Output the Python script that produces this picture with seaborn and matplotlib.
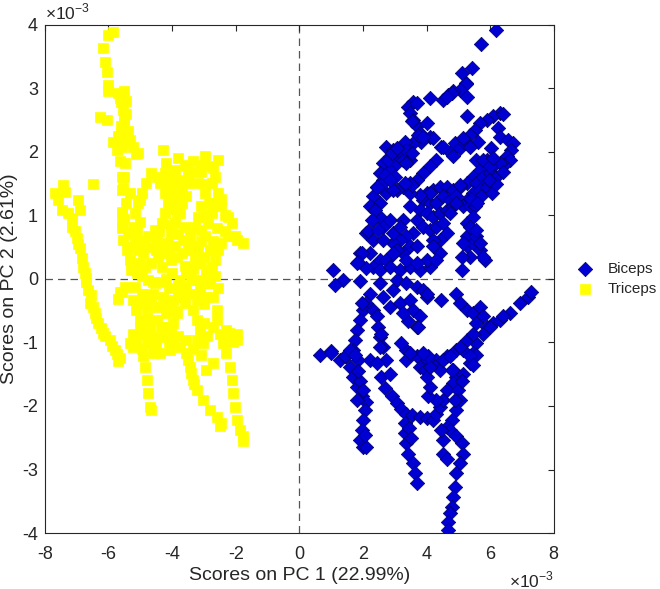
import numpy as np
import pandas as pd
import matplotlib
matplotlib.use("Agg")
import matplotlib.pyplot as plt
import seaborn as sns

# ── Data (scores in units of 1e-3) ────────────────────────────
triceps_pts = [
    # far-left strand
    (-7.69, 1.35), (-7.43, 1.48), (-7.38, 1.37), (-7.59, 1.24), (-7.47, 1.09),
    (-7.27, 1.04), (-7.15, 0.96), (-7.15, 0.82), (-7.05, 0.75), (-7.0, 0.65),
    (-6.95, 0.55), (-6.9, 0.49), (-6.84, 0.33), (-6.8, 0.19), (-6.75, 0.1),
    (-6.72, 0.02), (-6.7, -0.05), (-6.65, -0.17), (-6.55, -0.25), (-6.59, -0.38),
    (-6.5, -0.45), (-6.43, -0.54), (-6.4, -0.62), (-6.33, -0.69), (-6.25, -0.78),
    (-6.17, -0.85), (-6.1, -0.9), (-5.96, -0.96), (-5.88, -1.05), (-5.8, -1.12),
    (-5.72, -1.18), (-5.65, -1.24), (-5.7, -1.3), (-6.95, 1.24), (-6.9, 1.09),
    (-6.5, 1.5),
    # tall strand at the top
    (-5.86, 3.89), (-6.0, 3.84), (-6.17, 3.63), (-6.1, 3.42), (-6.05, 3.26),
    (-6.0, 3.05), (-6.0, 2.95), (-5.7, 2.92), (-5.5, 2.95), (-5.65, 2.85),
    (-5.6, 2.78), (-5.55, 2.66), (-5.5, 2.53), (-5.6, 2.4), (-5.4, 2.32),
    (-5.33, 2.19), (-5.23, 2.08), (-5.08, 1.98), (-5.12, 1.96), (-6.27, 2.55),
    (-6.05, 2.5), (-5.86, 2.16), (-5.74, 2.03), (-5.49, 1.82), (-5.59, 1.61),
    (-5.55, 1.43), (-5.33, 1.35), (-5.59, 1.04), (-5.59, 0.88), (-5.62, 2.3),
    (-5.7, 2.25), (-5.5, 2.45), (-5.45, 2.6), (-5.45, 2.15), (-5.58, 0.8),
    (-5.59, 2.08), (-5.38, 2.14), (-5.59, 1.40), (-5.59, 1.06), (-5.54, 0.61),
    (-5.43, 0.46), (-5.33, 0.30), (-5.28, 0.14), (-5.49, -0.12), (-5.17, -0.12),
    (-5.65, -0.2), (-5.7, -0.32), (-5.59, -0.2), (-5.45, 2.8), (-5.55, 2.2),
    (-5.65, 1.85), (-5.5, 1.6), (-5.45, 1.2), (-5.5, 0.95), (-5.4, 0.7),
    # body, left loop
    (-4.65, 1.66), (-4.81, 1.51), (-4.96, 1.35), (-5.07, 1.19), (-5.17, 1.03),
    (-5.23, 0.82), (-5.17, 0.61), (-5.07, 0.46), (-4.86, 0.56), (-4.75, 0.67),
    (-4.54, 0.77), (-4.33, 0.88), (-4.23, 1.03), (-4.13, 1.19), (-4.23, 1.35),
    (-4.39, 1.51), (-4.49, 1.61), (-5.27, 0.72), (-5.39, 0.5), (-5.02, 1.24),
    (-4.48, 0.61), (-4.7, 0.5), (-4.92, 0.41), (-5.02, 0.25), (-5.11, 0.09),
    (-4.28, 2.03), (-4.18, 1.82), (-4.23, 1.66), (-4.07, 1.35), (-4.17, 1.51),
    (-5.0, 0.9), (-5.1, 0.75), (-4.95, 0.6), (-4.4, 0.75), (-4.3, 0.55),
    (-4.5, 0.45),
    # body, top edge
    (-3.81, 1.90), (-3.60, 1.77), (-3.34, 1.85), (-3.29, 1.69), (-2.97, 1.93),
    (-2.55, 1.87), (-2.87, 1.77), (-3.08, 1.69), (-3.92, 1.72), (-3.54, 1.79),
    (-3.5, 1.65), (-3.7, 1.55), (-3.1, 1.8), (-2.7, 1.75), (-4.0, 1.6),
    # body, middle column
    (-3.92, 1.51), (-3.81, 1.35), (-3.70, 1.19), (-3.76, 1.03), (-3.92, 0.88),
    (-4.02, 0.72), (-4.13, 0.56), (-4.23, 0.40), (-3.60, 0.82), (-3.44, 0.67),
    (-3.39, 0.51), (-3.65, 0.61), (-3.92, 0.51), (-4.44, 0.35), (-4.65, 0.25),
    (-4.86, 0.19), (-4.33, 0.19), (-4.02, 0.30), (-3.70, 0.40), (-4.96, 0.04),
    (-4.75, -0.02), (-4.54, -0.07), (-4.96, -0.23), (-4.65, -0.28), (-4.86, -0.38),
    (-3.85, 1.04), (-3.7, 1.4), (-3.55, 1.3), (-4.05, 0.85), (-3.8, 0.7),
    (-4.1, 0.45), (-3.85, 0.35), (-3.5, 0.45), (-4.0, 1.1), (-3.95, 1.25),
    # body, right part
    (-3.50, 1.51), (-3.18, 1.51), (-2.97, 1.35), (-3.08, 1.14), (-3.18, 0.98),
    (-3.29, 0.82), (-3.08, 0.77), (-2.97, 0.67), (-2.87, 0.88), (-2.76, 1.03),
    (-2.66, 1.19), (-2.55, 1.35), (-2.76, 1.51), (-2.66, 1.61), (-2.45, 1.14),
    (-2.24, 0.98), (-2.13, 0.88), (-2.24, 0.67), (-2.03, 0.67), (-1.77, 0.56),
    (-1.97, 0.61), (-2.45, 0.56), (-2.55, 0.46), (-2.66, 0.30), (-2.76, 0.19),
    (-2.87, 0.09), (-3.29, 0.35), (-3.24, 0.25), (-3.55, 0.09), (-3.39, -0.01),
    (-3.08, -0.02), (-2.87, -0.07), (-3.70, -0.12), (-3.81, -0.28), (-3.50, -0.23),
    (-3.18, -0.23), (-2.97, -0.28), (-4.02, -0.38), (-3.60, -0.38), (-2.85, 1.2),
    (-3.0, 0.35), (-2.35, 0.75), (-2.6, 0.8), (-3.2, 0.5), (-3.1, 0.6),
    (-2.8, 0.45), (-2.7, 0.6), (-2.45, 1.25), (-2.35, 1.0), (-3.0, 1.0),
    (-2.95, 1.5), (-3.1, 0.25), (-3.35, 0.15), (-3.6, 0.2),
    # lower body
    (-5.23, -0.33), (-5.12, -0.49), (-5.02, -0.65), (-5.23, -0.86), (-5.33, -1.01),
    (-5.23, -1.07), (-4.91, -0.86), (-4.80, -1.01), (-4.91, -1.22), (-4.86, -1.38),
    (-4.80, -1.59), (-4.75, -1.80), (-4.70, -2.01), (-4.65, -2.06), (-4.60, -1.17),
    (-4.39, -1.17), (-4.07, -1.12), (-3.76, -1.07), (-3.97, -0.96), (-4.28, -0.91),
    (-4.60, -0.91), (-4.70, -0.75), (-4.49, -0.65), (-4.18, -0.75), (-3.97, -0.70),
    (-3.86, -0.54), (-4.18, -0.54), (-4.49, -0.44), (-4.80, -0.44), (-4.91, -0.23),
    (-4.60, -0.23), (-4.28, -0.28), (-3.97, -0.33), (-3.76, -0.23), (-3.55, -0.12),
    (-3.76, -0.02), (-3.44, 0.09), (-3.23, -0.02), (-3.13, -0.17), (-3.23, -0.33),
    (-3.34, -0.49), (-3.23, -0.65), (-3.13, -0.80), (-3.23, -0.96), (-3.03, -1.01),
    (-3.55, -0.96), (-4.8, -0.6), (-4.35, -0.75), (-4.1, -0.15), (-4.4, -0.05),
    (-4.6, -0.05), (-4.2, 0.0), (-4.0, 0.1), (-3.8, -0.1), (-4.2, -0.45),
    (-3.9, -0.5), (-4.05, -0.8), (-4.5, -1.05), (-4.1, -1.0), (-3.8, -0.9),
    (-3.35, -1.1), (-3.1, -1.2), (-3.0, -0.7), (-2.9, -0.9), (-3.0, -0.4),
    (-5.05, -0.4), (-5.0, -0.75), (-5.15, -0.95), (-4.95, -1.1), (-2.65, 0.05),
    (-2.55, -0.15),
    # lower-right strands
    (-2.92, 0.14), (-2.81, -0.07), (-2.71, -0.28), (-2.60, -0.49), (-2.60, -0.65),
    (-2.50, -0.86), (-2.40, -1.01), (-2.29, -1.17), (-2.19, -1.38), (-2.13, -1.59),
    (-2.08, -1.80), (-2.03, -2.01), (-1.97, -2.22), (-1.87, -2.38), (-1.77, -2.48),
    (-1.77, -2.55), (-2.7, -0.75),
    (-3.55, -1.17), (-3.44, -1.38), (-3.34, -1.59), (-3.23, -1.75), (-3.03, -1.91),
    (-2.81, -2.06), (-2.60, -2.17), (-2.45, -2.27), (-2.5, -2.32), (-2.71, -1.33),
    (-2.92, -1.43), (-3.5, -1.28), (-3.4, -1.48), (-3.3, -1.65),
    (-2.29, -0.80), (-1.97, -0.86), (-1.95, -0.96), (-2.08, -1.0), (-2.2, -0.85),
]

biceps_pts = [
    # top spur and hook
    (6.18, 3.92), (5.70, 3.69), (5.42, 3.32), (5.10, 3.24), (5.24, 3.08),
    (5.24, 3.06), (5.05, 2.98), (4.84, 2.95), (4.68, 2.90), (4.52, 2.82),
    (5.26, 2.87), (4.10, 2.85), (5.26, 2.56), (4.79, 2.92), (4.63, 2.87),
    (3.58, 2.79), (3.42, 2.71), (3.47, 2.61), (3.58, 2.50), (3.69, 2.40),
    (3.79, 2.29), (4.0, 2.45), (4.10, 2.24), (3.84, 2.16), (3.58, 2.14),
    (3.32, 2.16), (3.69, 2.77), (3.53, 2.48), (3.74, 2.27), (4.21, 2.22),
    (3.89, 2.24),
    # upper-right arc
    (6.30, 2.61), (6.09, 2.56), (5.89, 2.50), (5.68, 2.45), (5.52, 2.35),
    (5.36, 2.27), (6.25, 2.37), (6.30, 2.24), (6.57, 2.19), (6.72, 2.14),
    (6.67, 2.03), (6.52, 1.93), (5.62, 2.16), (6.04, 2.06), (6.41, 2.60),
    (6.62, 1.87), (6.45, 1.80),
    # second row
    (4.47, 2.08), (4.73, 2.00), (4.89, 2.14), (5.05, 2.06), (5.20, 2.14),
    (4.84, 1.93), (5.36, 2.08), (5.15, 2.22), (4.52, 2.08),
    # dense right band
    (5.57, 1.87), (5.89, 1.87), (6.09, 1.77), (6.30, 1.82), (5.68, 1.72),
    (5.47, 1.61), (5.26, 1.51), (5.05, 1.45), (5.57, 1.51), (5.78, 1.61),
    (5.99, 1.66), (5.47, 1.35), (5.26, 1.24), (5.68, 1.40), (5.15, 1.14),
    (5.36, 1.14), (5.52, 1.14), (5.26, 0.88), (5.26, 0.67), (5.26, 0.51),
    (5.36, 0.35), (5.47, 0.56), (5.68, 0.46), (5.83, 0.30), (5.57, 0.67),
    (5.78, 1.87), (5.99, 1.77), (6.20, 1.61), (6.41, 1.69), (5.89, 1.45),
    (6.05, 1.35), (5.70, 1.30), (6.20, 1.50), (5.47, 0.98), (5.36, 0.82),
    (5.57, 0.77), (5.68, 0.56), (5.78, 0.35), (5.10, 0.35), (5.10, 0.14),
    (5.15, 0.56), (5.40, 1.25), (5.60, 1.20), (5.95, 1.55), (6.10, 1.90),
    # diagonal band
    (4.0, 1.35), (4.21, 1.40), (4.42, 1.45), (4.63, 1.45), (4.84, 1.40),
    (3.89, 1.24), (4.10, 1.19), (4.31, 1.19), (4.52, 1.30), (4.73, 1.24),
    (4.94, 1.30), (3.79, 1.09), (4.0, 1.03), (4.21, 0.98), (4.42, 1.03),
    (4.63, 1.09), (4.84, 1.14), (3.69, 0.93), (3.89, 0.82), (4.10, 0.77),
    (4.31, 0.82), (4.52, 0.88), (4.63, 0.72), (4.42, 0.61), (4.21, 0.61),
    (3.58, 0.72), (3.37, 0.67), (3.16, 0.61), (2.95, 0.56), (3.47, 0.51),
    (3.26, 0.40), (4.94, 1.19), (5.05, 1.48), (4.73, 1.03), (4.10, 1.35),
    (3.79, 1.32), (3.47, 1.35), (4.21, 0.51), (4.42, 0.40), (3.69, 0.51),
    # upper diagonal
    (4.31, 1.87), (4.10, 1.77), (3.89, 1.66), (3.69, 1.56), (3.47, 1.51),
    (3.26, 1.45), (3.06, 1.40), (3.53, 1.48), (3.32, 1.51),
    # left upper cluster
    (2.74, 2.08), (2.95, 2.03), (3.16, 1.98), (2.85, 1.93), (2.64, 1.82),
    (2.53, 1.66), (2.64, 1.56), (2.85, 1.72), (3.06, 1.82), (3.26, 1.87),
    (3.47, 1.87), (3.37, 2.03), (2.43, 1.45), (2.32, 1.30), (2.53, 1.19),
    (2.74, 1.35), (2.95, 1.40), (2.22, 1.14), (2.32, 0.93), (2.53, 0.98),
    (2.64, 0.82), (2.85, 0.93), (3.26, 0.93), (3.47, 1.14), (2.11, 0.72),
    (2.32, 0.61), (2.64, 0.61), (2.95, 0.72), (3.16, 0.82), (1.90, 0.40),
    (2.22, 0.40), (2.53, 0.30), (2.85, 0.35), (3.06, 0.46), (2.79, 1.87),
    (2.90, 1.98), (3.06, 2.06), (2.69, 1.64), (2.58, 1.48), (2.45, 1.45),
    (2.37, 1.09), (2.16, 0.75), (2.48, 0.77), (2.27, 0.93), (3.37, 1.82),
    (3.53, 1.98), (3.0, 1.6), (2.85, 1.55), (2.74, 0.30), (2.32, 0.19),
    (2.11, 0.17), (1.96, 0.40), (1.85, 0.27), (2.95, 0.40),
    # around zero
    (1.06, 0.14), (1.38, -0.02), (1.12, -0.09), (1.90, -0.04), (1.80, 0.25),
    (2.53, 0.14), (2.85, 0.19), (3.16, 0.14), (3.47, 0.19), (3.79, 0.14),
    (3.06, -0.02), (3.37, -0.07), (3.69, -0.12), (3.89, -0.17), (4.0, -0.28),
    (2.53, -0.07), (2.22, -0.23), (2.64, -0.28), (2.85, -0.44), (3.16, -0.38),
    (3.47, -0.33), (3.58, -0.49), (3.42, -0.67), (3.69, -0.75), (3.79, -0.59),
    (4.10, 0.19), (4.0, 0.30), (4.31, 0.30), (3.37, 0.30), (3.69, 0.25),
    (4.47, -0.33), (2.95, -0.17), (3.26, -0.54), (3.74, -0.75), (4.0, -0.23),
    # below zero, left strands
    (2.11, -0.38), (2.01, -0.49), (1.90, -0.65), (2.32, -0.49), (2.43, -0.59),
    (2.48, -0.75), (2.53, -0.91), (2.64, -1.07), (2.74, -1.28), (1.80, -0.80),
    (1.75, -0.96), (1.69, -1.12), (1.48, -1.22), (1.27, -1.28), (1.01, -1.14),
    (0.64, -1.20), (1.01, -1.17), (1.43, -1.22), (1.59, -1.12), (1.59, -1.38),
    (1.69, -1.54), (1.80, -1.70), (1.96, -1.85), (2.11, -1.93), (2.06, -2.06),
    (2.01, -2.22), (1.96, -2.38), (1.90, -2.54), (2.01, -2.64), (2.11, -2.64),
    (1.85, -1.28), (1.80, -1.91), (1.75, -1.20), (1.90, -1.60), (1.96, -0.38),
    (2.22, -1.28), (2.43, -1.33), (2.58, -1.54), (2.69, -1.72), (2.53, -1.07),
    (2.85, -1.49), (2.90, -1.85), (3.06, -1.96), (3.21, -2.04), (2.58, -0.86),
    (1.85, -1.45), (2.0, -1.75), (2.05, -2.45),
    # right arc
    (4.94, -0.23), (5.05, -0.38), (5.26, -0.49), (5.47, -0.54), (5.68, -0.44),
    (5.78, -0.59), (5.57, -0.70), (5.89, -0.75), (6.09, -0.70), (6.30, -0.65),
    (6.62, -0.54), (6.93, -0.38), (7.19, -0.28), (7.30, -0.20), (5.78, -0.86),
    (5.57, -1.01), (5.26, -0.96), (4.94, -1.12), (4.63, -1.22), (4.31, -1.28),
    (4.0, -1.28), (3.69, -1.22), (3.37, -1.12), (3.21, -1.01), (3.37, -1.28),
    (3.79, -1.38), (3.95, -1.43), (4.42, -1.43), (4.84, -1.43), (4.94, -1.54),
    (4.84, -1.64), (5.47, -1.17), (5.36, -1.33), (5.57, -1.20), (5.15, -1.12),
    (5.05, -1.07), (5.47, -0.86), (6.41, -0.59), (5.99, -0.75),
    # lower strands
    (3.37, -2.12), (3.32, -2.27), (3.32, -2.43), (3.37, -2.59), (3.42, -2.75),
    (3.58, -2.90), (3.63, -3.06), (3.69, -3.22), (3.53, -2.14), (3.79, -2.17),
    (4.0, -2.19), (4.21, -2.22), (4.31, -2.12), (4.42, -2.01), (4.52, -1.91),
    (4.63, -1.75), (4.31, -1.91), (4.05, -1.85), (4.10, -1.70), (4.0, -1.54),
    (4.10, -1.38), (4.05, -1.22), (3.89, -1.17), (3.47, -1.17), (4.52, -1.28),
    (4.73, -1.22), (5.36, -1.22), (5.47, -1.35), (5.15, -1.49), (4.79, -1.43),
    (5.0, -1.75), (5.05, -1.91), (4.94, -2.06), (4.79, -2.22), (4.63, -2.33),
    (4.73, -2.38), (4.94, -2.48), (5.10, -2.59), (5.15, -2.75), (5.05, -2.90),
    (4.94, -3.06), (4.89, -3.27), (4.84, -3.43), (4.79, -3.59), (4.73, -3.69),
    (4.68, -3.82), (4.68, -3.95), (4.52, -2.54), (4.52, -2.75), (4.63, -2.83),
    (4.47, -2.38), (4.90, -1.90), (3.45, -2.35), (3.50, -2.50), (5.10, -1.60),
]

groups = ["Biceps", "Triceps"]
colors = {"Biceps": "#0000d2", "Triceps": "#ffff00"}
edges = {"Biceps": "#00006a", "Triceps": "#ffff00"}
markers = {"Biceps": "D", "Triceps": "s"}
sizes = {"Biceps": 54, "Triceps": 44}

df = pd.concat([
    pd.DataFrame(biceps_pts, columns=["pc1", "pc2"]).assign(muscle="Biceps"),
    pd.DataFrame(triceps_pts, columns=["pc1", "pc2"]).assign(muscle="Triceps"),
], ignore_index=True)

# ── Plot ──────────────────────────────────────────────────────
sns.set_style("white")
plt.rcParams["font.family"] = ["Liberation Sans", "DejaVu Sans"]
plt.rcParams["axes.unicode_minus"] = False
plt.rcParams["mathtext.fontset"] = "custom"
plt.rcParams["mathtext.rm"] = "Liberation Sans"

fig, ax = plt.subplots(figsize=(6.6, 5.89), dpi=100)
fig.subplots_adjust(left=0.068, right=0.839, bottom=0.095, top=0.958)

ax.axvline(0, color="#555555", ls=(0, (6, 4)), lw=0.9, zorder=0)
ax.axhline(0, color="#555555", ls=(0, (6, 4)), lw=0.9, zorder=0)

for g in groups:
    sub = df[df["muscle"] == g]
    sns.scatterplot(data=sub, x="pc1", y="pc2", ax=ax, marker=markers[g],
                    s=sizes[g], color=colors[g], edgecolor=edges[g],
                    linewidth=0.5, label=g, zorder=3)

ax.set_xlim(-8, 8)
ax.set_ylim(-4, 4)
ax.set_xticks(np.arange(-8, 9, 2))
ax.set_yticks(np.arange(-4, 5, 1))
ax.tick_params(direction="in", top=True, right=True, length=4,
               labelsize=13, colors="#262626", width=0.8)
ax.tick_params(axis="x", pad=9)
ax.tick_params(axis="y", pad=5)
for sp in ax.spines.values():
    sp.set_color("#262626")
    sp.set_linewidth(0.8)

ax.set_xlabel("Scores on PC 1 (22.99%)", fontsize=14, labelpad=3)
ax.set_ylabel("Scores on PC 2 (2.61%)", fontsize=14, labelpad=3)
ax.text(0.0, 1.004, r"$\times\mathrm{10}^{\mathrm{-3}}$", transform=ax.transAxes,
        fontsize=12.5, ha="left", va="bottom", color="#262626")
ax.text(1.0, -0.0925, r"$\times\mathrm{10}^{\mathrm{-3}}$", transform=ax.transAxes,
        fontsize=12.5, ha="right", va="center", color="#262626")

ax.legend(loc="center left", bbox_to_anchor=(1.037, 0.5), frameon=False,
          fontsize=11, handlelength=1.0, handletextpad=1.0, borderpad=0.3,
          borderaxespad=0, labelspacing=0.35)

plt.savefig("out.png", dpi=100)
